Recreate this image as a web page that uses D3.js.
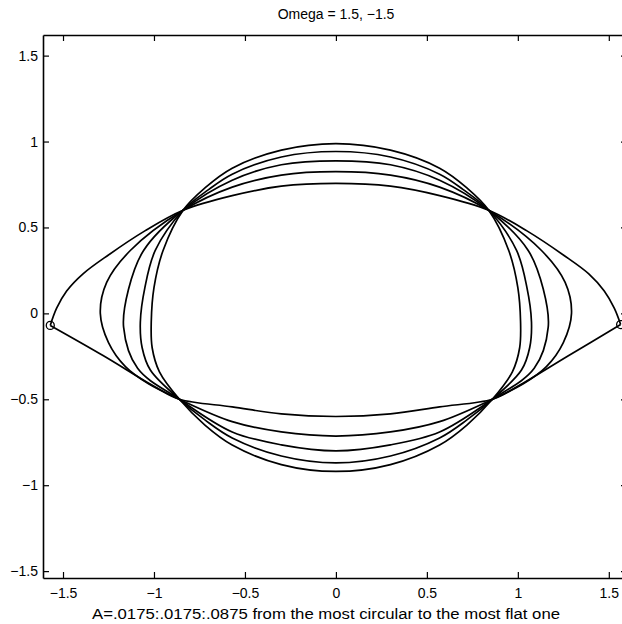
<!DOCTYPE html>
<html>
<head>
<meta charset="utf-8">
<script src="https://cdn.jsdelivr.net/npm/d3@7"></script>
<style>
  body { margin: 0; background: #fff; }
  text { font-family: "Liberation Sans", Arial, sans-serif; fill: #000; }
</style>
</head>
<body>
<div id="chart"></div>
<script>
// Tick values on both axes
const xTicks = [-1.5, -1, -0.5, 0, 0.5, 1, 1.5];
const yTicks = [-1.5, -1, -0.5, 0, 0.5, 1, 1.5];

// Closed curves, A = .0175 (most circular) ... .0700
const curveA1 = [[1.015,-0.05],[1.0,0.15],[0.95,0.366],[0.84,0.6],[0.72,0.73],[0.57,0.845],[0.3,0.95],[0,0.988],[-0.3,0.95],[-0.57,0.845],[-0.72,0.73],[-0.84,0.6],[-0.95,0.366],[-1.0,0.15],[-1.015,-0.05],[-1.01,-0.2],[-0.97,-0.34],[-0.86,-0.5],[-0.72,-0.65],[-0.57,-0.766],[-0.3,-0.88],[0,-0.92],[0.3,-0.88],[0.57,-0.766],[0.72,-0.65],[0.86,-0.5],[0.97,-0.34],[1.01,-0.2]];
const curveA2 = [[1.075,-0.05],[1.05,0.15],[0.993,0.366],[0.84,0.6],[0.7,0.72],[0.57,0.81],[0.3,0.91],[0,0.942],[-0.3,0.91],[-0.57,0.81],[-0.7,0.72],[-0.84,0.6],[-0.993,0.366],[-1.05,0.15],[-1.075,-0.05],[-1.065,-0.2],[-1.02,-0.33],[-0.86,-0.5],[-0.72,-0.62],[-0.57,-0.725],[-0.3,-0.83],[0,-0.87],[0.3,-0.83],[0.57,-0.725],[0.72,-0.62],[0.86,-0.5],[1.02,-0.33],[1.065,-0.2]];
const curveA3 = [[1.167,-0.08],[1.14,0.14],[1.057,0.366],[0.84,0.6],[0.57,0.775],[0.3,0.865],[0,0.888],[-0.3,0.865],[-0.57,0.775],[-0.84,0.6],[-1.057,0.366],[-1.14,0.14],[-1.167,-0.08],[-1.09,-0.32],[-0.86,-0.5],[-0.57,-0.69],[-0.3,-0.765],[0,-0.8],[0.3,-0.765],[0.57,-0.69],[0.86,-0.5],[1.09,-0.32]];
const curveA4 = [[1.295,0],[1.26,0.18],[1.13,0.366],[0.84,0.6],[0.57,0.735],[0.3,0.805],[0,0.825],[-0.3,0.805],[-0.57,0.735],[-0.84,0.6],[-1.13,0.366],[-1.26,0.18],[-1.295,0],[-1.25,-0.17],[-1.157,-0.31],[-1.03,-0.41],[-0.86,-0.5],[-0.57,-0.63],[-0.3,-0.69],[0,-0.714],[0.3,-0.69],[0.57,-0.63],[0.86,-0.5],[1.03,-0.41],[1.157,-0.31],[1.25,-0.17]];

// Flattest curve (A = .0875) has cusps, kept as two branches
const curveA5Upper = [[1.565,-0.065],[1.53,0.03],[1.475,0.13],[1.39,0.23],[1.25,0.34],[1.05,0.48],[0.84,0.6],[0.57,0.685],[0.3,0.74],[0,0.756],[-0.3,0.74],[-0.57,0.685],[-0.84,0.6],[-1.05,0.48],[-1.25,0.34],[-1.39,0.23],[-1.48,0.13],[-1.535,0.03],[-1.57,-0.07]];
const curveA5Lower = [[-1.57,-0.07],[-1.28,-0.245],[-0.99,-0.43],[-0.86,-0.5],[-0.57,-0.544],[-0.3,-0.585],[0,-0.6],[0.3,-0.585],[0.57,-0.544],[0.86,-0.5],[0.99,-0.43],[1.28,-0.245],[1.565,-0.065]];

// 'o' markers at the cusps
const cuspMarkers = [[1.565,-0.065],[-1.57,-0.07]];

document.addEventListener("DOMContentLoaded", function () {
    const svgWidth = 622, svgHeight = 624;
    const margin = { top: 35, right: -5, bottom: 46, left: 43 };
    const width = svgWidth - margin.left - margin.right;
    const height = svgHeight - margin.top - margin.bottom;

    const svg = d3.select("#chart")
        .append("svg")
        .attr("width", svgWidth)
        .attr("height", svgHeight)
        .style("display", "block");

    const g = svg.append("g")
        .attr("transform", `translate(${margin.left},${margin.top})`);

    const xScale = d3.scaleLinear().domain([-1.61, 1.6]).range([0, width]);
    const yScale = d3.scaleLinear().domain([-1.54, 1.62]).range([height, 0]);

    // clip to axes box
    svg.append("defs").append("clipPath").attr("id", "box")
        .append("rect").attr("width", width).attr("height", height);

    const plot = g.append("g").attr("clip-path", "url(#box)");

    const closedLine = d3.line()
        .x(d => xScale(d[0]))
        .y(d => yScale(d[1]))
        .curve(d3.curveCatmullRomClosed.alpha(0.5));

    const openLine = d3.line()
        .x(d => xScale(d[0]))
        .y(d => yScale(d[1]))
        .curve(d3.curveCatmullRom.alpha(0.5));

    [curveA1, curveA2, curveA3, curveA4].forEach(c => {
        plot.append("path")
            .datum(c)
            .attr("d", closedLine)
            .style("fill", "none")
            .style("stroke", "#000")
            .style("stroke-width", 1.7);
    });

    [curveA5Upper, curveA5Lower].forEach(c => {
        plot.append("path")
            .datum(c)
            .attr("d", openLine)
            .style("fill", "none")
            .style("stroke", "#000")
            .style("stroke-width", 1.7);
    });

    plot.selectAll(".cusp")
        .data(cuspMarkers)
        .enter()
        .append("circle")
        .attr("class", "cusp")
        .attr("cx", d => xScale(d[0]))
        .attr("cy", d => yScale(d[1]))
        .attr("r", 4)
        .style("fill", "none")
        .style("stroke", "#000")
        .style("stroke-width", 1.3);

    // axes, MATLAB style: inward ticks on all four sides
    const tick = 6;
    g.append("g")
        .attr("transform", `translate(0,${height})`)
        .call(d3.axisBottom(xScale).tickValues(xTicks).tickSizeInner(-tick).tickSizeOuter(0)
            .tickPadding(10).tickFormat(d => String(d).replace("-", "\u2212")));
    g.append("g")
        .call(d3.axisTop(xScale).tickValues(xTicks).tickSizeInner(-tick).tickSizeOuter(0).tickFormat(""));
    g.append("g")
        .call(d3.axisLeft(yScale).tickValues(yTicks).tickSizeInner(-tick).tickSizeOuter(0)
            .tickPadding(5).tickFormat(d => String(d).replace("-", "\u2212")));
    g.append("g")
        .attr("transform", `translate(${width},0)`)
        .call(d3.axisRight(yScale).tickValues(yTicks).tickSizeInner(-tick).tickSizeOuter(0).tickFormat(""));

    g.selectAll(".domain").style("stroke", "#000").style("stroke-width", 1.6);
    g.selectAll(".tick line").style("stroke", "#000").style("stroke-width", 1.2);
    g.selectAll(".tick text")
        .style("font-family", "'Liberation Sans', Arial, sans-serif")
        .style("font-size", "14px")
        .style("fill", "#000");

    // title
    svg.append("text")
        .attr("x", 336)
        .attr("y", 19)
        .attr("text-anchor", "middle")
        .attr("font-size", "14px")
        .text("Omega = 1.5, \u22121.5");

    // x label
    svg.append("text")
        .attr("x", 326)
        .attr("y", 619)
        .attr("text-anchor", "middle")
        .attr("font-size", "14px")
        .attr("textLength", 468)
        .attr("lengthAdjust", "spacingAndGlyphs")
        .text("A=.0175:.0175:.0875 from the most circular to the most flat one");
});
</script>
</body>
</html>
